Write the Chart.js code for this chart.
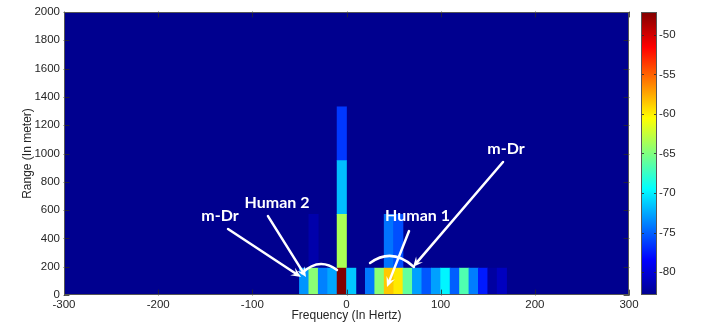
<!DOCTYPE html>
<html>
<head>
<meta charset="utf-8">
<script src="https://cdn.jsdelivr.net/npm/chart.js@4.4.0/dist/chart.umd.min.js"></script>
<style>
  html, body { margin: 0; padding: 0; background: #fff; }
  #wrap { position: relative; width: 718px; height: 327px; }
  #heatmap { position: absolute; left: 0; top: 0; }
  #colorbar { position: absolute; left: 630px; top: 0; }
</style>
</head>
<body>
<div id="wrap">
  <canvas id="heatmap" width="718" height="327"></canvas>
  <canvas id="colorbar" width="88" height="327"></canvas>
</div>
<script>
// frequency bins (Hz, 10 Hz wide) used by the category axis
const binCentres = [
  -295, -285, -275, -265, -255, -245, -235, -225, -215, -205,
  -195, -185, -175, -165, -155, -145, -135, -125, -115, -105,
  -95, -85, -75, -65, -55, -45, -35, -25, -15, -5,
  5, 15, 25, 35, 45, 55, 65, 75, 85, 95,
  105, 115, 125, 135, 145, 155, 165, 175, 185, 195,
  205, 215, 225, 235, 245, 255, 265, 275, 285, 295
];

// bins that carry a return above the floor
const freqBins = [-45, -35, -25, -15, -5, 5, 15, 25, 35, 45, 55, 65, 75, 85, 95, 105, 115, 125, 135, 145, 155, 165];

// range rows (m)
const rangeRows = [[0, 190], [190, 570], [570, 950], [950, 1330]];

// power (dB) per row, null = floor
const powerRow1 = [-73.2, -64.6, -73.9, -72.6, -47.1, -71.4, null, -74.2, -64.6, -58.6, -59.8, -66.0, -72.8, -75.4, -72.8, -69.8, -75.1, -66.7, -74.0, -77.5, -82.2, -81.0];
const powerRow2 = [null, -81.8, null, null, -63.5, null, null, null, null, -74.4, -75.7, null, null, null, null, null, null, null, null, null, null, null];
const powerRow3 = [null, null, null, null, -71.8, null, null, null, null, null, null, null, null, null, null, null, null, null, null, null, null, null];
const powerRow4 = [null, null, null, null, -76.5, null, null, null, null, null, null, null, null, null, null, null, null, null, null, null, null, null];

const freqTicks = [-300, -200, -100, 0, 100, 200, 300];
const rangeTicks = [0, 200, 400, 600, 800, 1000, 1200, 1400, 1600, 1800, 2000];
const colourTicks = [-80, -75, -70, -65, -60, -55, -50];
const dbMin = -82.9;
const dbMax = -47.1;

// annotations, in data units (Hz, m)
const noteTexts = ['m-Dr', 'Human 2', 'Human 1', 'm-Dr'];
const noteFreq = [-134.3, -73.8, 75.4, 169.4];
const noteRange = [558, 650, 558, 1032];
const arrowFrom = [[-125.8, 466], [-83.4, 558], [66.4, 452], [166.2, 940]];
const arrowTo = [[-48.3, 127], [-43, 127], [43, 57], [70.6, 198]];
const arcPoints = [
  [[-47.3, 155], [-29, 272], [-10.1, 177]],
  [[25, 226], [48.3, 339], [71.7, 198]]
];

const jetStops = [
  [0, [0, 0, 143]],
  [0.125, [0, 0, 255]],
  [0.375, [0, 255, 255]],
  [0.625, [255, 255, 0]],
  [0.875, [255, 0, 0]],
  [1, [128, 0, 0]]
];

function jet(db) {
  let t = (db - dbMin) / (dbMax - dbMin);
  t = Math.max(0, Math.min(1, t));
  for (let i = 1; i < jetStops.length; i++) {
    const [t0, c0] = jetStops[i - 1];
    const [t1, c1] = jetStops[i];
    if (t <= t1) {
      const f = (t - t0) / (t1 - t0);
      const c = c0.map((v, k) => Math.round(v + (c1[k] - v) * f));
      return `rgb(${c[0]},${c[1]},${c[2]})`;
    }
  }
  return 'rgb(128,0,0)';
}

const textColour = '#262626';
const tickFont = { family: '"Liberation Sans", Arial, sans-serif', size: 11.5 };
const titleFont = { family: '"Liberation Sans", Arial, sans-serif', size: 12 };

const powerRows = [powerRow1, powerRow2, powerRow3, powerRow4];
const datasets = rangeRows.map((row, i) => ({
  label: `${row[0]}-${row[1]} m`,
  data: freqBins
    .map((f, j) => powerRows[i][j] === null ? null : { x: String(f), y: row, db: powerRows[i][j] })
    .filter(Boolean),
  backgroundColor: (ctx) => ctx.raw ? jet(ctx.raw.db) : 'transparent',
  borderWidth: 0,
  barPercentage: 1,
  categoryPercentage: 1,
  grouped: false,
  xAxisID: 'x',
  yAxisID: 'y'
}));

const floorFill = {
  id: 'floorFill',
  beforeDatasetsDraw(chart) {
    const { ctx, chartArea: a } = chart;
    ctx.save();
    ctx.fillStyle = jet(dbMin);
    ctx.fillRect(a.left, a.top, a.right - a.left, a.bottom - a.top);
    ctx.restore();
  }
};

function drawHead(ctx, x0, y0, x1, y1) {
  const ang = Math.atan2(y1 - y0, x1 - x0);
  const len = 11, wing = 0.42;
  ctx.beginPath();
  ctx.moveTo(x1, y1);
  ctx.lineTo(x1 - len * Math.cos(ang - wing), y1 - len * Math.sin(ang - wing));
  ctx.lineTo(x1 - len * 0.55 * Math.cos(ang), y1 - len * 0.55 * Math.sin(ang));
  ctx.lineTo(x1 - len * Math.cos(ang + wing), y1 - len * Math.sin(ang + wing));
  ctx.closePath();
  ctx.fill();
}

const notes = {
  id: 'notes',
  afterDatasetsDraw(chart) {
    const { ctx } = chart;
    const xs = chart.scales.xf, ys = chart.scales.y;
    const px = (p) => [xs.getPixelForValue(p[0]), ys.getPixelForValue(p[1])];
    ctx.save();
    ctx.strokeStyle = '#fff';
    ctx.fillStyle = '#fff';
    ctx.lineWidth = 2.5;
    ctx.lineCap = 'round';

    arcPoints.forEach(pts => {
      const [a, c, b] = pts.map(px);
      ctx.beginPath();
      ctx.moveTo(a[0], a[1]);
      ctx.quadraticCurveTo(c[0], c[1], b[0], b[1]);
      ctx.stroke();
    });

    arrowFrom.forEach((from, i) => {
      const a = px(from), b = px(arrowTo[i]);
      const ang = Math.atan2(b[1] - a[1], b[0] - a[0]);
      ctx.beginPath();
      ctx.moveTo(a[0], a[1]);
      ctx.lineTo(b[0] - 6 * Math.cos(ang), b[1] - 6 * Math.sin(ang));
      ctx.stroke();
      drawHead(ctx, a[0], a[1], b[0], b[1]);
    });

    ctx.font = 'bold 16px Lato, "Open Sans", sans-serif';
    ctx.textAlign = 'center';
    ctx.textBaseline = 'middle';
    noteTexts.forEach((t, i) => {
      ctx.fillText(t, xs.getPixelForValue(noteFreq[i]), ys.getPixelForValue(noteRange[i]));
    });

    // inward tick marks, top/bottom and left/right
    const a = chart.chartArea;
    ctx.strokeStyle = 'rgba(40,40,40,0.8)';
    ctx.lineWidth = 1;
    ctx.beginPath();
    freqTicks.forEach(v => {
      const x = Math.round(xs.getPixelForValue(v)) + 0.5;
      ctx.moveTo(x, a.bottom); ctx.lineTo(x, a.bottom - 5);
      ctx.moveTo(x, a.top); ctx.lineTo(x, a.top + 5);
    });
    rangeTicks.forEach(v => {
      const y = Math.round(ys.getPixelForValue(v)) + 0.5;
      ctx.moveTo(a.left, y); ctx.lineTo(a.left + 5, y);
      ctx.moveTo(a.right, y); ctx.lineTo(a.right - 5, y);
    });
    ctx.stroke();
    ctx.strokeStyle = '#555';
    ctx.strokeRect(a.left + 0.5, a.top + 0.5, a.right - a.left - 1, a.bottom - a.top - 1);
    ctx.restore();
  }
};

new Chart(document.getElementById('heatmap'), {
  type: 'bar',
  data: { labels: binCentres.map(String), datasets },
  options: {
    responsive: false,
    animation: false,
    devicePixelRatio: 1,
    layout: { padding: { top: 12, right: 89, left: 0, bottom: 0 } },
    plugins: { legend: { display: false }, tooltip: { enabled: false } },
    scales: {
      x: { type: 'category', display: false, offset: true },
      xf: {
        type: 'linear',
        position: 'bottom',
        offset: false,
        min: -300,
        max: 300,
        afterBuildTicks: (s) => { s.ticks = freqTicks.map(v => ({ value: v })); },
        afterFit: (s) => { s.height = 32; },
        ticks: { color: textColour, font: tickFont, padding: 3, maxRotation: 0, callback: (v) => String(v) },
        grid: { drawOnChartArea: false, drawTicks: false, offset: false },
        border: { display: false },
        title: { display: true, text: 'Frequency (In Hertz)', color: textColour, font: titleFont, padding: { top: 0, bottom: 4 } }
      },
      y: {
        type: 'linear',
        min: 0,
        max: 2000,
        afterBuildTicks: (s) => { s.ticks = rangeTicks.map(v => ({ value: v })); },
        afterFit: (s) => { s.width = 64; },
        ticks: { color: textColour, font: tickFont, padding: 4, callback: (v) => String(v) },
        grid: { drawOnChartArea: false, drawTicks: false },
        border: { display: false },
        title: { display: true, text: 'Range (In meter)', color: textColour, font: titleFont, padding: { top: 20, bottom: 0 } }
      }
    }
  },
  plugins: [floorFill, notes]
});

const barFrame = {
  id: 'barFrame',
  afterDatasetsDraw(chart) {
    const { ctx, chartArea: a } = chart;
    const ys = chart.scales.y;
    ctx.save();
    ctx.strokeStyle = 'rgba(40,40,40,0.8)';
    ctx.lineWidth = 1;
    ctx.beginPath();
    colourTicks.forEach(v => {
      const y = Math.round(ys.getPixelForValue(v)) + 0.5;
      ctx.moveTo(a.left, y); ctx.lineTo(a.left + 3, y);
      ctx.moveTo(a.right, y); ctx.lineTo(a.right - 3, y);
    });
    ctx.stroke();
    ctx.strokeStyle = '#555';
    ctx.strokeRect(a.left + 0.5, a.top + 0.5, a.right - a.left - 1, a.bottom - a.top - 1);
    ctx.restore();
  }
};

new Chart(document.getElementById('colorbar'), {
  type: 'bar',
  data: {
    labels: ['dB'],
    datasets: [{
      data: [[dbMin, dbMax]],
      backgroundColor: (ctx) => {
        const a = ctx.chart.chartArea;
        if (!a) return 'transparent';
        const g = ctx.chart.ctx.createLinearGradient(0, a.bottom, 0, a.top);
        jetStops.forEach(([t, c]) => g.addColorStop(t, `rgb(${c[0]},${c[1]},${c[2]})`));
        return g;
      },
      borderWidth: 0,
      barPercentage: 1,
      categoryPercentage: 1
    }]
  },
  options: {
    responsive: false,
    animation: false,
    devicePixelRatio: 1,
    layout: { padding: { top: 12, right: 0, left: 11, bottom: 32 } },
    plugins: { legend: { display: false }, tooltip: { enabled: false } },
    scales: {
      x: { display: false, offset: true },
      y: {
        position: 'right',
        min: dbMin,
        max: dbMax,
        afterBuildTicks: (s) => { s.ticks = colourTicks.map(v => ({ value: v })); },
        afterFit: (s) => { s.width = 61; },
        ticks: { color: textColour, font: tickFont, padding: 2 },
        grid: { drawOnChartArea: false, drawTicks: false },
        border: { display: false }
      }
    }
  },
  plugins: [barFrame]
});
</script>
</body>
</html>
